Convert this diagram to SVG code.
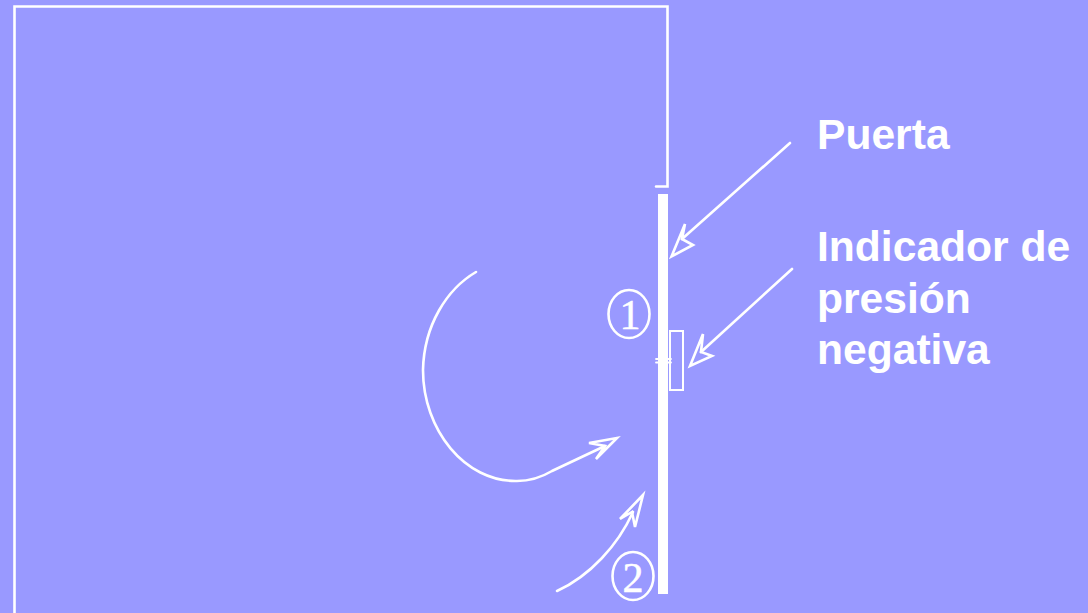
<svg xmlns="http://www.w3.org/2000/svg" width="1088" height="613" viewBox="0 0 1088 613">
<style>
.l{fill:none;stroke:#fff;stroke-width:2.600;stroke-linecap:round;stroke-linejoin:miter}
.t{fill:#fff;font-family:"Liberation Sans",Arial,sans-serif;font-weight:700;font-size:42.600px}
.n{fill:#fff;stroke:#fff;stroke-width:.5;font-family:"Liberation Serif","Times New Roman",serif;font-size:42px;text-anchor:middle}
</style>
<rect width="1088" height="613" fill="#9999ff"/>
<g id="room"><path class="l" d="M14.500 613V6.500H667.500V186.500H656"/></g>
<g id="door"><rect x="658" y="194" width="10" height="400" fill="#fff"/><path class="l" style="stroke-width:1.800" d="M656 359H671M656 362.500H671"/></g>
<g id="indicator"><rect class="l" style="stroke-width:2" x="670" y="331" width="13" height="59"/></g>
<g id="label-puerta"><text class="t" x="817" y="149">Puerta</text></g>
<g id="label-indicador"><text class="t" x="817" y="261">Indicador de</text><text class="t" x="817" y="313">presión</text><text class="t" x="817" y="364">negativa</text></g>
<g id="marker-1"><ellipse class="l" cx="629" cy="314" rx="20.500" ry="24"/><text class="n" x="630" y="329">1</text></g>
<g id="marker-2"><ellipse class="l" cx="633" cy="576" rx="20.500" ry="24"/><text class="n" x="633" y="592">2</text></g>
<g id="connectors">
<path class="l" d="M790 143L682 239"/>
<path class="l" d="M671.500 256.500L685 224L682 239L693 245Z"/>
<path class="l" d="M792 269L701 352"/>
<path class="l" d="M690 366L703 334L701 352L712 356Z"/>
<path class="l" d="M476 272C447 289 424 325 423 370C423 430 465 482 517 481C532 481 542 477 552 471L605 446"/>
<path class="l" d="M617 438L589 443L605 446L596 459Z"/>
<path class="l" d="M557 591C590 576 618 545 633 512"/>
<path class="l" d="M643 495L620 519L632 512L635 527Z"/>
</g>
</svg>
